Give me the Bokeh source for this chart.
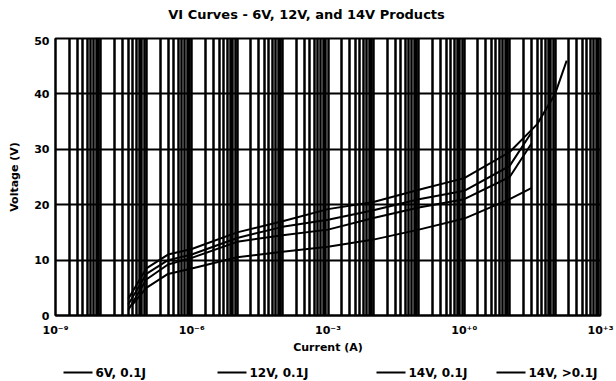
import numpy as np
from bokeh.plotting import figure
from bokeh.layouts import column
from bokeh.models import (FixedTicker, CustomJSTickFormatter, Range1d, Label)
from bokeh.core.properties import value
from bokeh.embed import file_html
from bokeh.resources import INLINE

# ---------------- data ----------------
title_text = "VI Curves - 6V, 12V, and 14V Products"
x_label = "Current (A)"
y_label = "Voltage (V)"

x_tick_exps = [-9, -6, -3, 0, 3]
x_tick_labels = ["10\u207b\u2079", "10\u207b\u2076", "10\u207b\u00b3", "10\u207a\u2070", "10\u207a\u00b3"]
y_ticks = [0, 10, 20, 30, 40, 50]

series_names = ["6V, 0.1J", "12V, 0.1J", "14V, 0.1J", "14V, >0.1J"]

current_6v = [5e-8, 1e-7, 3e-7, 1e-6, 1e-5, 1e-4, 1e-3, 1e-2, 1e-1, 1, 10, 30]
voltage_6v = [2.0, 5.0, 7.5, 8.5, 10.5, 11.5, 12.4, 13.7, 15.5, 17.5, 21.0, 23.0]

current_12v = [4e-8, 1e-7, 3e-7, 1e-6, 1e-5, 1e-4, 1e-3, 1e-2, 1e-1, 1, 10, 30]
voltage_12v = [1.0, 6.5, 9.2, 10.4, 13.3, 14.5, 15.5, 17.6, 19.5, 21.0, 25.0, 31.0]

current_14v = [4e-8, 1e-7, 3e-7, 1e-6, 1e-5, 1e-4, 1e-3, 1e-2, 1e-1, 1, 10, 30]
voltage_14v = [2.0, 7.5, 10.0, 11.0, 14.0, 16.0, 17.3, 19.0, 21.0, 22.5, 27.0, 33.0]

current_14v_hi = [4e-8, 1e-7, 3e-7, 1e-6, 1e-5, 1e-4, 1e-3, 1e-2, 1e-1, 1, 10, 40, 100, 180]
voltage_14v_hi = [3.0, 8.5, 11.0, 12.0, 15.0, 17.0, 19.2, 20.5, 22.7, 24.8, 29.5, 34.5, 40.0, 46.0]

x_min_exp, x_max_exp = -9, 3
# --------------------------------------

FONT = "DejaVu Sans"
W = 616
BL, BR = 55, 16          # left / right borders (frame spans 55..600 px)
H_HEAD, H_MAIN, H_LEG = 36, 320, 25


def strip(height):
    """A blank figure whose data units are page pixels (x) and strip pixels (y)."""
    f = figure(width=W, height=height, x_range=Range1d(BL, W - BR), y_range=Range1d(0, height),
               output_backend="svg", toolbar_location=None,
               x_axis_location=None, y_axis_location=None,
               min_border_left=BL, min_border_right=BR, min_border_top=0, min_border_bottom=0)
    f.xgrid.visible = False
    f.ygrid.visible = False
    f.outline_line_color = None
    f.border_fill_color = "white"
    f.background_fill_color = "white"
    return f


# ---- header with the title ----
head = strip(H_HEAD)
head.text(x=[306], y=[H_HEAD - 14], text=[title_text],
          text_font=value(FONT), text_font_style="bold", text_font_size="13px",
          text_color="black", text_align="center", text_baseline="middle")

# ---- main chart ----
p = figure(width=W, height=H_MAIN, x_axis_type="log",
           x_range=Range1d(10.0 ** x_min_exp, 10.0 ** x_max_exp),
           y_range=Range1d(y_ticks[0], y_ticks[-1]),
           output_backend="svg", toolbar_location=None,
           min_border_left=BL, min_border_right=BR, min_border_top=2, min_border_bottom=40)

p.xaxis.ticker = FixedTicker(ticks=[10.0 ** e for e in x_tick_exps], minor_ticks=[])
p.xaxis.formatter = CustomJSTickFormatter(args=dict(exps=x_tick_exps, labels=x_tick_labels), code="""
    const e = Math.round(Math.log10(tick));
    const i = exps.indexOf(e);
    return i >= 0 ? labels[i] : "";
""")
p.yaxis.ticker = FixedTicker(ticks=y_ticks, minor_ticks=[])
for ax in (p.xaxis, p.yaxis):
    ax.major_tick_out = 0
    ax.major_tick_in = 0
    ax.minor_tick_out = 0
    ax.minor_tick_in = 0
    ax.axis_line_color = "black"
    ax.axis_line_width = 2
    ax.major_label_text_font = FONT
    ax.major_label_text_font_style = "bold"
    ax.major_label_text_font_size = "11px"
    ax.major_label_text_color = "black"
    ax.axis_label_text_font = FONT
    ax.axis_label_text_font_style = "bold"
    ax.axis_label_text_font_size = "11px"
    ax.axis_label_text_color = "black"
p.xaxis.axis_label = x_label
p.yaxis.axis_label = y_label
p.xaxis.major_label_standoff = 8
p.xaxis.axis_label_standoff = 1
p.yaxis.major_label_standoff = 6
p.yaxis.axis_label_standoff = 10

# grids: every decade + 2..9 multiples
decades = [10.0 ** e for e in range(x_min_exp, x_max_exp + 1)]
minors = [m * 10.0 ** e for e in range(x_min_exp, x_max_exp) for m in range(2, 10)]
p.xgrid.ticker = FixedTicker(ticks=decades, minor_ticks=minors)
p.xgrid.grid_line_color = "black"
p.xgrid.grid_line_width = 2.5
p.xgrid.grid_line_alpha = 1.0
p.xgrid.minor_grid_line_color = "black"
p.xgrid.minor_grid_line_width = 2.5
p.ygrid.ticker = FixedTicker(ticks=y_ticks, minor_ticks=[])
p.ygrid.grid_line_color = "black"
p.ygrid.grid_line_width = 2
p.ygrid.grid_line_alpha = 1.0

p.outline_line_color = "black"
p.outline_line_width = 2
p.background_fill_color = "white"
p.border_fill_color = "white"

all_series = [(current_6v, voltage_6v), (current_12v, voltage_12v),
              (current_14v, voltage_14v), (current_14v_hi, voltage_14v_hi)]
for cx, vy in all_series:
    p.line(cx, vy, line_color="black", line_width=2)

# ---- legend strip ----
lg = strip(H_LEG)
legend_x = [63, 217, 376, 496]   # item positions (page px)
sample_len = 29
label_gap = 3
legend_y = 9
lg.segment(x0=legend_x, y0=[legend_y] * 4,
           x1=[x + sample_len for x in legend_x], y1=[legend_y] * 4,
           line_color="black", line_width=2)
for name, lx in zip(series_names, legend_x):
    lg.add_layout(Label(x=lx + sample_len + label_gap, y=legend_y, text=name,
                        text_font=FONT, text_font_style="bold", text_font_size="12px",
                        text_color="black", text_baseline="middle", text_align="left"))

open("out.html", "w").write(file_html(column(head, p, lg, spacing=0), INLINE))
